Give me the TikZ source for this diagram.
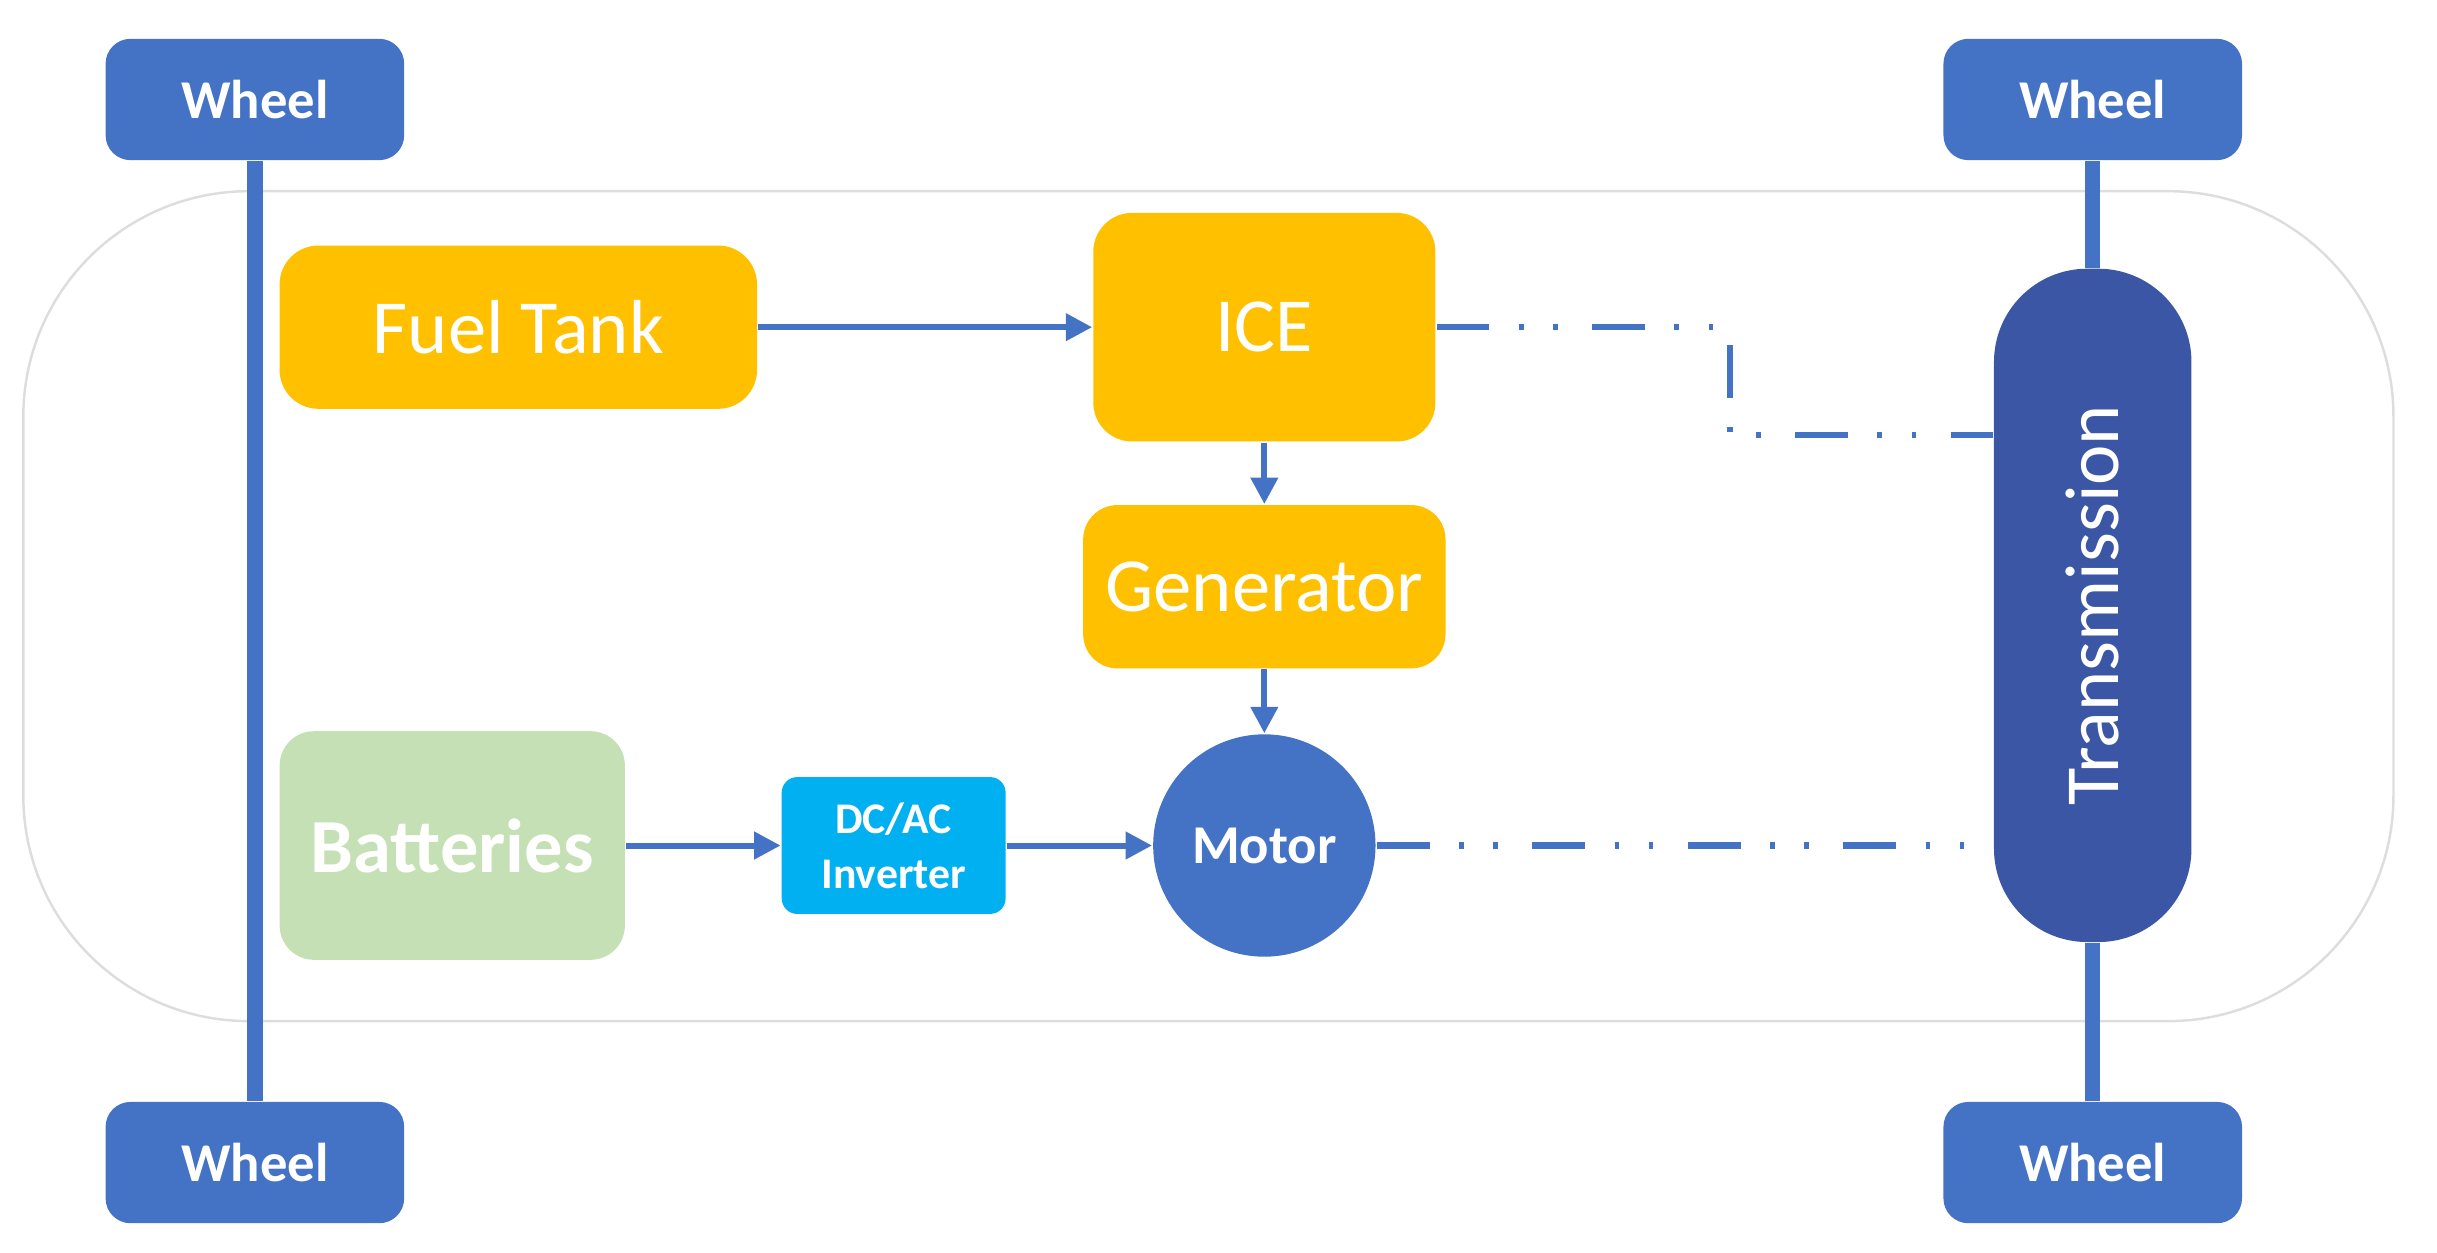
\documentclass[tikz,border=0pt]{standalone}
\usepackage{fontspec}
\usepackage{graphicx}
\setmainfont{Carlito}
\usetikzlibrary{arrows.meta}
\definecolor{wblue}{HTML}{4472C4}
\definecolor{tblue}{HTML}{3A56A4}
\definecolor{orng}{HTML}{FFC000}
\definecolor{lgreen}{HTML}{C5E0B4}
\definecolor{cyanb}{HTML}{00B0F0}
\definecolor{outl}{HTML}{DDDDDD}
\tikzset{
  wheelbox/.style={fill=wblue, rounded corners=0.16cm, minimum width=1.92cm, minimum height=0.78cm, inner sep=0pt, text=white, font=\fontsize{10}{12}\selectfont\bfseries},
  orbox/.style={fill=orng, rounded corners=0.25cm, inner sep=0pt, text=white, font=\fontsize{14}{16}\selectfont},
  axle/.style={draw=wblue, line width=2.8pt},
  flow/.style={draw=wblue, line width=1.1pt, -{Triangle[length=0.17cm,width=0.17cm]}},
  mech/.style={draw=wblue, line width=1.2pt, line cap=butt, dash pattern=on 0.34cm off 0.19cm on 0.03cm off 0.19cm on 0.03cm off 0.22cm}
}
\begin{document}
\begin{tikzpicture}[x=0.01cm,y=-0.01cm]
\useasboundingbox (0,0) rectangle (1568,805.6);
% car outline
\draw[outl, line width=0.45pt, rounded corners=1.45cm] (15,123) rectangle (1540,657);
% wheels
\node[wheelbox] (wTL) at (164,64) {Wheel};
\node[wheelbox] (wTR) at (1346.5,64) {Wheel};
\node[wheelbox] (wBL) at (164,748) {Wheel};
\node[wheelbox] (wBR) at (1346.5,748) {Wheel};
% transmission
\node[fill=tblue, rounded corners=0.6cm, minimum width=1.27cm, minimum height=4.33cm, inner sep=0pt, text=white, font=\fontsize{14}{16}\selectfont] (trans) at (1346.5,389.5) {\rotatebox{90}{Transmission}};
% components
\node[orbox, minimum width=3.07cm, minimum height=1.05cm] (fuel) at (333.5,210.5) {Fuel Tank};
\node[orbox, minimum width=2.20cm, minimum height=1.47cm] (ice) at (813.5,210.5) {ICE};
\node[orbox, rounded corners=0.22cm, minimum width=2.33cm, minimum height=1.05cm] (gen) at (813.5,377.5) {Generator};
\node[fill=lgreen, rounded corners=0.22cm, minimum width=2.22cm, minimum height=1.47cm, inner sep=0pt, text=white, font=\fontsize{14}{16}\selectfont\bfseries] (batt) at (291,544) {Batteries};
\node[fill=cyanb, rounded corners=0.1cm, minimum width=1.44cm, minimum height=0.88cm, inner sep=0pt, text=white, align=center, font=\fontsize{8}{10}\selectfont\bfseries] (inv) at (575,544) {DC/AC\\Inverter};
\node[circle, fill=wblue, minimum size=1.43cm, inner sep=0pt, text=white, font=\fontsize{10}{12}\selectfont\bfseries] (motor) at (813.5,544) {Motor};
% axles
\draw[axle] (wTL.south) -- (wBL.north);
\draw[axle] (wTR.south) -- (trans.north);
\draw[axle] (trans.south) -- (wBR.north);
% flows
\draw[flow] (fuel.east) -- (ice.west);
\draw[flow] (ice.south) -- (gen.north);
\draw[flow] (gen.south) -- (motor.north);
\draw[flow] (batt.east) -- (inv.west);
\draw[flow] (inv.east) -- (motor.west);
% mechanical links
\coordinate (k) at (1113,280);
\draw[mech] (ice.east) -| (k) -- (k -| trans.west);
\draw[mech] (motor.east) -- (motor.east -| trans.west);
\end{tikzpicture}
\end{document}
